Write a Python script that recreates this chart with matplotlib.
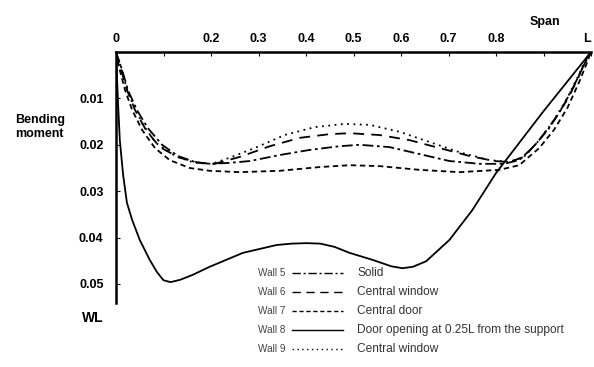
import matplotlib
matplotlib.use('Agg')
import matplotlib.pyplot as plt
from matplotlib.lines import Line2D

plt.rcParams['font.family'] = ['Liberation Sans', 'DejaVu Sans']

# span position (fraction of L) and bending moment (x WL)
w5_x = [0, .013, .025, .044, .067, .097, .130, .166, .197, .239, .282, .345, .408, .471,
        .513, .576, .639, .702, .765, .817, .849, .880, .912, .939, .964, .985, 1.0]
w5_y = [0, .0039, .0082, .0125, .0164, .0200, .0224, .0237, .0241, .0239, .0235, .0222,
        .0211, .0203, .0200, .0205, .0220, .0235, .0241, .0241, .0233, .0203, .0164,
        .0121, .0073, .0028, 0]

w6_x = [0, .011, .023, .040, .063, .092, .134, .176, .208, .261, .324, .387, .450, .492,
        .555, .618, .681, .744, .796, .828, .859, .891, .922, .950, .973, .989, 1.0]
w6_y = [0, .0039, .0082, .0125, .0168, .0205, .0228, .0239, .0241, .0226, .0203, .0185,
        .0177, .0175, .0179, .0190, .0207, .0224, .0235, .0237, .0226, .0190, .0147,
        .0103, .0056, .0017, 0]

w7_x = [0, .008, .019, .034, .055, .082, .113, .155, .197, .261, .345, .429, .492, .555,
        .639, .723, .807, .849, .891, .922, .950, .975, .992, 1.0]
w7_y = [0, .0039, .0082, .0125, .0168, .0207, .0233, .0250, .0256, .0259, .0256, .0248,
        .0244, .0246, .0254, .0259, .0254, .0244, .0207, .0168, .0121, .0065, .0022, 0]

w8_x = [0, .004, .008, .015, .023, .034, .050, .071, .086, .100, .115, .135, .160, .197,
        .267, .338, .370, .401, .430, .460, .492, .540, .580, .603, .625, .653, .702,
        .750, .800, .899, 1.0]
w8_y = [0, .0103, .0190, .0265, .0325, .0362, .0405, .0448, .0474, .0492, .0496, .0491,
        .0481, .0463, .0433, .0416, .0413, .0412, .0413, .0420, .0433, .0448, .0462,
        .0466, .0463, .0451, .0405, .0341, .0261, .0129, 0]

w9_x = [0, .011, .021, .036, .057, .084, .124, .166, .202, .239, .292, .355, .418, .481,
        .534, .597, .660, .723, .786, .828, .859, .891, .922, .950, .973, .989, 1.0]
w9_y = [0, .0034, .0073, .0114, .0157, .0196, .0224, .0239, .0241, .0228, .0207, .0179,
        .0162, .0155, .0157, .0172, .0194, .0216, .0233, .0237, .0226, .0190, .0147,
        .0099, .0052, .0015, 0]

x_ticks = [0, .1, .2, .3, .4, .5, .6, .7, .8, .9, 1.0]
x_labels = ['0', '', '0.2', '0.3', '0.4', '0.5', '0.6', '0.7', '0.8', '', 'L']
y_ticks = [.01, .02, .03, .04, .05]
y_labels = ['0.01', '0.02', '0.03', '0.04', '0.05']

walls = ['Wall 5', 'Wall 6', 'Wall 7', 'Wall 8', 'Wall 9']
descr = ['Solid', 'Central window', 'Central door',
         'Door opening at 0.25L from the support', 'Central window']
styles = [(0, (6, 2, 1.5, 2)), (0, (6, 4)), (0, (3, 2)), '-', (0, (1, 2.5))]

fig = plt.figure(figsize=(5.94, 3.67), dpi=100)
ax = fig.add_axes([116 / 594, 1 - 303 / 367, 475 / 594, 251 / 367])

series = [(w5_x, w5_y), (w6_x, w6_y), (w7_x, w7_y), (w8_x, w8_y), (w9_x, w9_y)]
for (xs, ys), ls in zip(series, styles):
    ax.plot(xs, ys, color='black', lw=1.3, linestyle=ls)

ax.set_xlim(0, 1.0)
ax.set_ylim(0.0541, 0)
ax.xaxis.tick_top()
ax.set_xticks(x_ticks)
ax.set_xticklabels(x_labels, fontsize=9, fontweight='bold')
ax.get_xticklabels()[-1].set_ha('right')
ax.set_yticks(y_ticks)
ax.set_yticklabels(y_labels, fontsize=9, fontweight='bold')
ax.tick_params(axis='x', direction='in', length=3, pad=5)
ax.tick_params(axis='y', direction='in', length=3, pad=9)
for s in ['right', 'bottom']:
    ax.spines[s].set_visible(False)
ax.spines['top'].set_linewidth(1.8)
ax.spines['left'].set_linewidth(1.8)

fig.text(15 / 594, 1 - 127 / 367, 'Bending\nmoment', fontsize=9, fontweight='bold',
         ha='left', va='center', linespacing=1.3)
fig.text(93 / 594, 1 - 318 / 367, 'WL', fontsize=10, fontweight='bold', ha='center', va='center')
fig.text(545 / 594, 1 - 22 / 367, 'Span', fontsize=9, fontweight='bold', ha='center', va='center')

# legend drawn as three columns
for i in range(5):
    yy = 1 - (273 + 19 * i) / 367
    fig.text(258 / 594, yy, walls[i], fontsize=7.2, color='#444444', ha='left', va='center')
    fig.add_artist(Line2D([292 / 594, 343 / 594], [yy, yy], color='black', lw=1.0,
                          linestyle=styles[i]))
    fig.text(357 / 594, yy, descr[i], fontsize=8.6, color='#333333', ha='left', va='center')

fig.savefig('out.png', dpi=100)
